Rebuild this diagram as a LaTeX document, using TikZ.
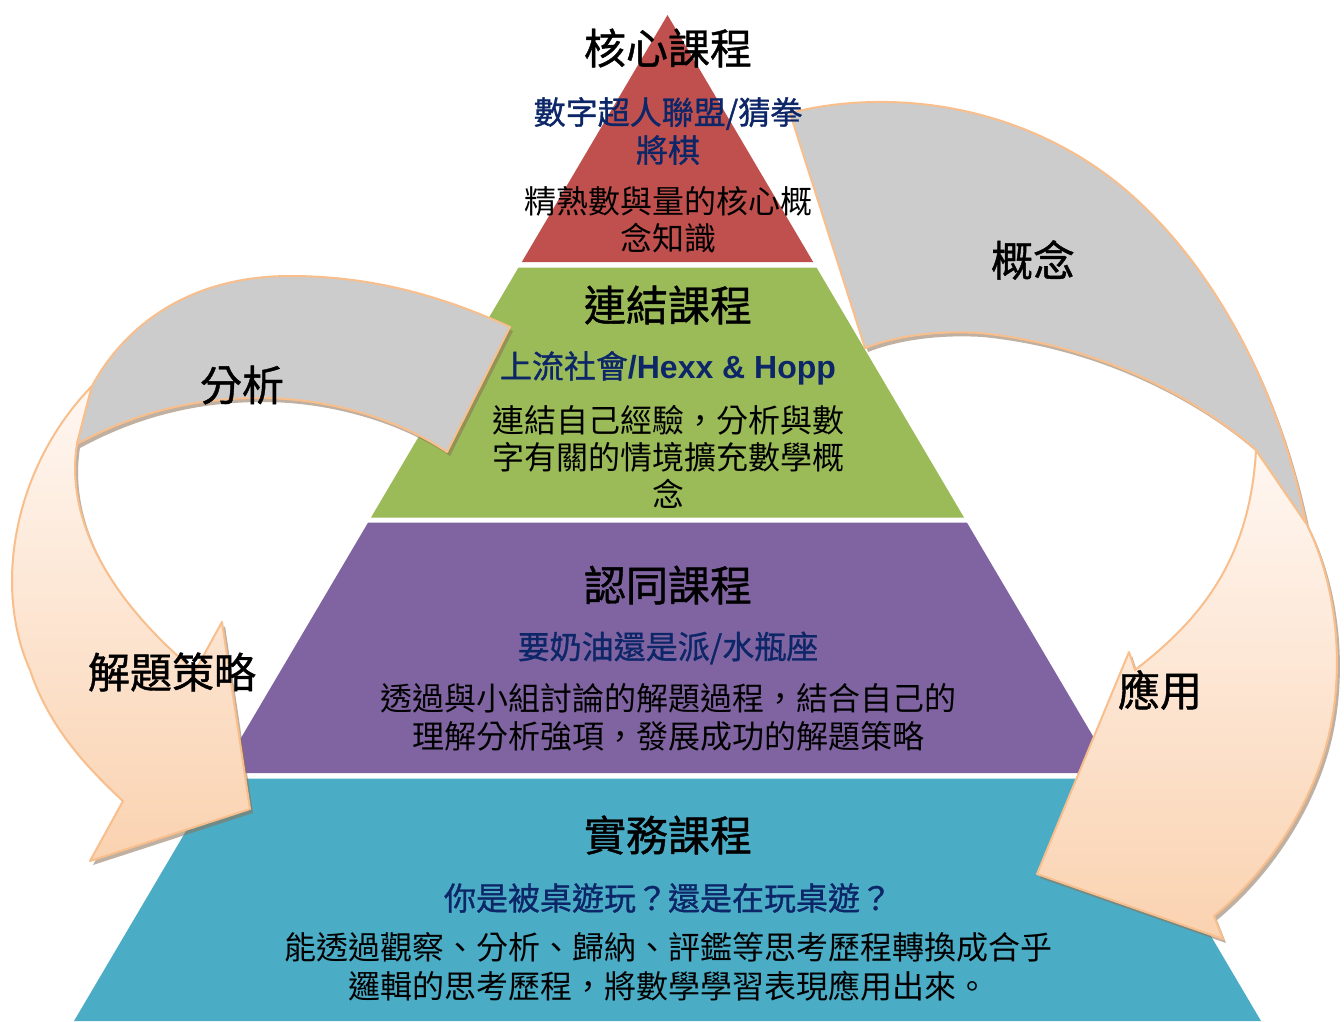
\documentclass[tikz,border=0pt]{standalone}
\usepackage{fontspec}
\setmainfont{Liberation Sans}
\newfontfamily\cjk{Noto Sans CJK TC}
\newfontfamily\cjkb[FakeBold=1]{Noto Sans CJK TC}
\newfontfamily\arialf{Liberation Sans}
\definecolor{cred}{HTML}{C0504D}
\definecolor{cgreen}{HTML}{9BBB59}
\definecolor{cpurple}{HTML}{8064A2}
\definecolor{cteal}{HTML}{4BACC6}
\definecolor{navy}{RGB}{12,38,104}
\definecolor{ribbongray}{RGB}{204,204,204}
\definecolor{ribbonline}{RGB}{248,190,140}
\definecolor{peachtop}{RGB}{255,247,242}
\definecolor{peachbot}{RGB}{250,210,176}
\definecolor{shadowc}{RGB}{140,112,85}
\begin{document}
\begin{tikzpicture}[x=1pt,y=-1pt,line join=round,
  titletxt/.style={font=\fontsize{42}{48}\selectfont\cjkb,text=black,inner sep=0pt},
  subtxt/.style={font=\fontsize{32}{38}\selectfont\cjkb,text=navy,align=center,inner sep=0pt},
  bodytxt/.style={font=\fontsize{32}{37}\selectfont\cjk,text=black,align=center,inner sep=0pt},
  lbltxt/.style={font=\fontsize{42}{48}\selectfont\cjkb,text=black,inner sep=0pt},
  shadowfill/.style={fill=shadowc,opacity=0.55},
  grayband/.style={fill=ribbongray,draw=ribbonline,line width=2pt},
  peachband/.style={top color=peachtop,bottom color=peachbot,draw=ribbonline,line width=2pt},
  lgrayp/.style={insert path={(510,327) .. controls (440,295) and (370,276) .. (290,276) .. controls (190,276) and (125,325) .. (92,386) -- (77,444) .. controls (140,410) and (200,398) .. (260,398) .. controls (330,398) and (400,420) .. (447,452) -- cycle}},
  lpeachp/.style={insert path={(92,386) .. controls (15,465) and (-8,585) .. (30,670) .. controls (50,730) and (90,770) .. (123,801) -- (90,861) -- (250,809) -- (222,622) -- (195,671) .. controls (110,600) and (65,520) .. (77,444) -- cycle}},
  rgrayp/.style={insert path={(790,113) .. controls (880,90) and (1000,100) .. (1100,170) .. controls (1185,230) and (1270,350) .. (1306,523) -- (1256,450) .. controls (1200,400) and (1100,345) .. (980,333) .. controls (930,330) and (890,338) .. (865,348) -- cycle}},
  rpeachp/.style={insert path={(1306,523) .. controls (1335,580) and (1345,660) .. (1330,730) .. controls (1315,800) and (1270,870) .. (1214,916) -- (1223,939) -- (1037,874) -- (1129,652) -- (1135,670) .. controls (1200,620) and (1250,560) .. (1256,450) -- cycle}}
]
\useasboundingbox (0,0) rectangle (1344,1021);
\fill[white] (0,0) rectangle (1344,1021);
% pyramid layers
\fill[cred] (667.5,15) -- (813.2,262) -- (521.8,262) -- cycle;
\fill[cgreen] (518.5,267.5) -- (816.5,267.5) -- (964,517.5) -- (371,517.5) -- cycle;
\fill[cpurple] (368.1,522.5) -- (966.9,522.5) -- (1114.7,773) -- (220.3,773) -- cycle;
\fill[cteal] (217,778.5) -- (1118,778.5) -- (1261,1021) -- (74,1021) -- cycle;
% ribbon shadows
\path[shadowfill,shift={(3,4)},lgrayp];
\path[shadowfill,shift={(3,4)},lpeachp];
\path[shadowfill,shift={(3,4)},rgrayp];
\path[shadowfill,shift={(3,4)},rpeachp];
% ribbons
\path[peachband,lpeachp];
\path[grayband,lgrayp];
\path[peachband,rpeachp];
\path[grayband,rgrayp];
% layer texts
\node[titletxt] (t1) at (668,48) {核心課程};
\node[subtxt] (s1) at (668,131) {數字超人聯盟/猜拳\\將棋};
\node[bodytxt] (b1) at (668,220) {精熟數與量的核心概\\念知識};
\node[titletxt] (t2) at (668,305) {連結課程};
\node[subtxt] (s2) at (668,368) {上流社會{\arialf\bfseries /Hexx \& Hopp}};
\node[bodytxt] (b2) at (668,457) {連結自己經驗，分析與數\\字有關的情境擴充數學概\\念};
\node[titletxt] (t3) at (668,585) {認同課程};
\node[subtxt] (s3) at (668,648) {要奶油還是派/水瓶座};
\node[bodytxt,font=\fontsize{32}{38}\selectfont\cjk] (b3) at (668,717) {透過與小組討論的解題過程，結合自己的\\理解分析強項，發展成功的解題策略};
\node[titletxt] (t4) at (668,835) {實務課程};
\node[subtxt] (s4) at (668,898) {你是被桌遊玩？還是在玩桌遊？};
\node[bodytxt,font=\fontsize{32}{39}\selectfont\cjk] (b4) at (668,967) {能透過觀察、分析、歸納、評鑑等思考歷程轉換成合乎\\邏輯的思考歷程，將數學學習表現應用出來。};
% ribbon labels
\node[lbltxt] (l1) at (242,385) {分析};
\node[lbltxt] (l2) at (1033,260) {概念};
\node[lbltxt] (l3) at (172,672) {解題策略};
\node[lbltxt] (l4) at (1160,690) {應用};
\end{tikzpicture}
\end{document}
